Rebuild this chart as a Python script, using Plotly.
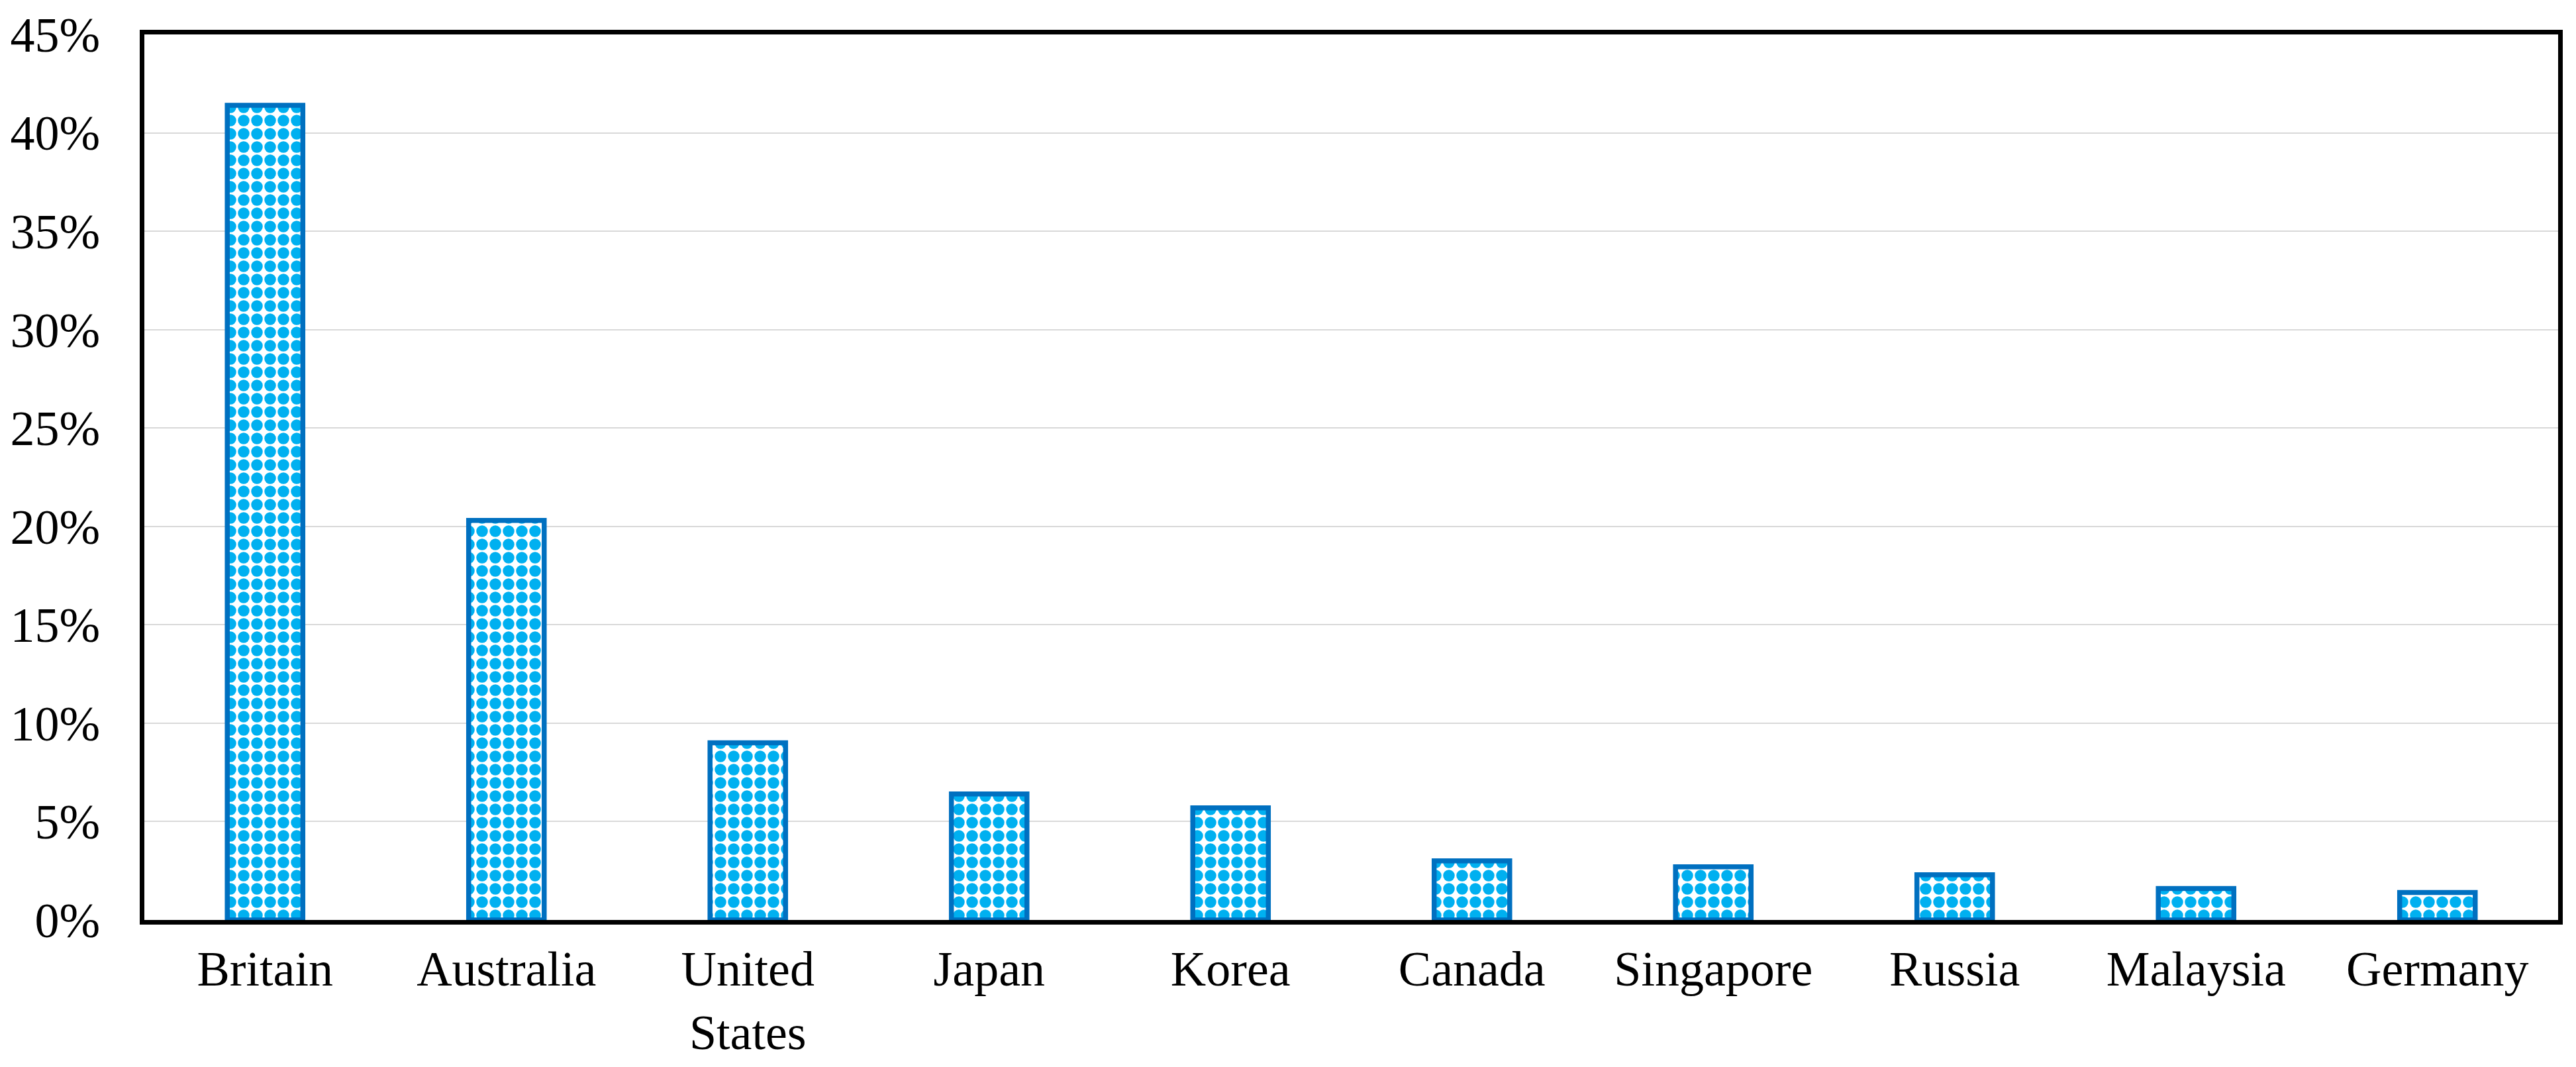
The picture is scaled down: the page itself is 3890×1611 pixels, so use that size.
import plotly.graph_objects as go

categories = ["Britain", "Australia", "United States", "Japan", "Korea",
              "Canada", "Singapore", "Russia", "Malaysia", "Germany"]
tick_labels = ["Britain", "Australia", "United<br>States", "Japan", "Korea",
               "Canada", "Singapore", "Russia", "Malaysia", "Germany"]
share_pct = [41.4, 20.3, 9.0, 6.4, 5.7, 3.0, 2.7, 2.3, 1.6, 1.4]
y_ticks = [0, 5, 10, 15, 20, 25, 30, 35, 40, 45]
y_tick_labels = ["0%", "5%", "10%", "15%", "20%", "25%", "30%", "35%", "40%", "45%"]

FONT = "Liberation Serif, Times New Roman, serif"

fig = go.Figure()
fig.add_trace(go.Bar(
    x=categories,
    y=share_pct,
    marker=dict(
        color="white",
        line=dict(color="#0070C0", width=7.5),
        pattern=dict(shape=".", fgcolor="#00B0F0", bgcolor="white",
                     size=20, solidity=0.6, fillmode="replace"),
    ),
    showlegend=False,
))

# the page body adds an 8px margin around the figure
fig.update_layout(
    width=3874, height=1595,
    margin=dict(l=210, r=19, t=44, b=214),
    paper_bgcolor="white", plot_bgcolor="white",
    bargap=0.687,
    font=dict(family=FONT, size=74, color="black"),
)
fig.update_xaxes(
    tickvals=categories, ticktext=tick_labels,
    showline=True, linecolor="black", linewidth=7, mirror=True,
    showgrid=False, ticks="", ticklabelstandoff=3, automargin=False,
    tickfont=dict(family=FONT, size=74, color="black"),
)
fig.update_yaxes(
    range=[0, 45], tickvals=y_ticks, ticktext=y_tick_labels,
    showline=True, linecolor="black", linewidth=7, mirror=True,
    showgrid=True, gridcolor="#D9D9D9", gridwidth=2,
    zeroline=False, ticks="", ticklabelstandoff=45, automargin=False,
    tickfont=dict(family=FONT, size=74, color="black"),
)

fig.write_html("out.html")
